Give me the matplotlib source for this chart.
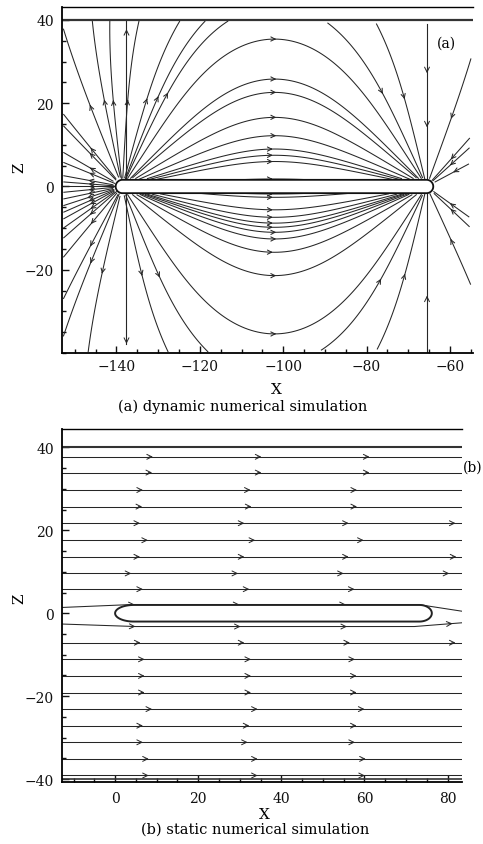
import inspect

import numpy as np
import matplotlib
matplotlib.use("Agg")
import matplotlib.pyplot as plt
from matplotlib import streamplot as sp_mod
from matplotlib.patches import Polygon
from matplotlib.ticker import MultipleLocator

plt.rcParams['font.family'] = ['DejaVu Serif']

# ---------------- panel (a): dynamic numerical simulation ----------------
a_xlim = (-153.0, -54.5)
a_ylim = (-40.0, 43.2)
a_field_z = (-40.0, 40.0)
a_xticks = [-140, -120, -100, -80, -60]
a_yticks = [-20, 0, 20, 40]
pole_src_x = -138.6          # field lines leave here
pole_snk_x = -65.6           # ... and end here
pole_falloff = 3.0           # field ~ 1/r**falloff around each pole
body_a_radius = 1.6
# height at which each closed arc crosses the mid-plane between the poles
a_arc_mid_z = [35.4, 25.8, 22.6, 16.6, 12.2, 9.0, 7.5, 6.0, 1.8,
               -1.8, -2.6, -5.6, -7.4, -8.8, -9.8, -11.0, -12.6, -15.8, -21.4, -35.4]
# where the open lines cross the frame
a_left_exit_z = [37.9, 17.4, 14.6, 8.2, 5.8, 2.6, 1.1, 0.0, -1.4, -3.0, -4.6,
                 -6.2, -7.8, -10.0, -12.4, -17.0, -27.0, -36.0]
a_top_exit_x = [-145.8, -141.6, -134.6, -124.8, -118.7, -113.2, -90.0, -78.0]
a_bottom_exit_x = [-146.8, -127.6, -118.0, -91.6, -77.8]
a_right_exit_z = [31.4, 12.2, 9.8, 5.8, 5.0, 0.6, -3.8, -4.6, -7.8, -10.2, -24.2]
# straight vertical lines through the poles
a_vertical_x = [-137.6, -65.5]
a_vertical_z = [(-37.8, 40.0), (-40.0, 39.0)]
a_vertical_arrow_z = [[37.0, -37.0], [28.0, 15.0, -27.0]]
a_vertical_outward = [True, False]

# ---------------- panel (b): static numerical simulation ----------------
b_xlim = (-12.7, 83.4)
b_ylim = (-40.6, 44.4)
b_xticks = [0, 20, 40, 60, 80]
b_yticks = [-40, -20, 0, 20, 40]
b_line_z = [37.7, 33.9, 29.7, 25.7, 21.7, 17.6, 13.6, 9.6, 5.8,
            -7.1, -11.1, -15.1, -19.1, -23.1, -27.1, -31.1, -35.1, -39.1]
b_arrow_x = [[8.8, 34.9, 60.9], [8.6, 34.9, 60.9], [6.4, 32.3, 57.9],
             [6.2, 32.5, 57.9], [5.7, 30.8, 55.9, 81.6], [7.6, 33.4, 59.5],
             [5.7, 30.8, 55.9, 81.8], [3.6, 29.3, 54.7, 80.1], [6.4, 32.0, 57.3],
             [5.8, 30.8, 56.2, 81.6], [6.8, 32.4, 57.4], [6.8, 32.4, 57.8],
             [6.8, 32.4, 57.8], [8.6, 34.0, 59.7], [6.4, 32.0, 57.8],
             [6.4, 31.6, 57.4], [7.8, 34.0, 60.0], [7.8, 34.0, 59.8]]
b_upper_wrap_x = [-12.7, 4.0, 73.0, 83.4]
b_upper_wrap_z = [1.4, 2.1, 2.1, 0.5]
b_upper_wrap_arrows = [4.4, 29.6, 55.2]
b_lower_wrap_x = [-12.7, 5.0, 72.0, 83.4]
b_lower_wrap_z = [-2.6, -3.2, -3.2, -2.3]
b_lower_wrap_arrows = [4.6, 29.9, 55.5, 80.9]
body_b_x = (0.0, 76.2)
body_b_half = 2.0
body_b_nose = (4.5, 3.0)      # length of the rounded ends (left, right)

LINE = '#262626'
HAS_NUM_ARROWS = 'num_arrows' in inspect.signature(sp_mod.streamplot).parameters


def arrow(ax, x, z, dx, dz):
    ax.annotate('', xy=(x + dx, z + dz), xytext=(x, z),
                arrowprops=dict(arrowstyle='->,head_length=0.45,head_width=0.22',
                                color=LINE, lw=0.7, mutation_scale=8,
                                shrinkA=0, shrinkB=0))


def style_axes(ax, xlim, ylim, xticks, yticks, xpad):
    ax.set_xlim(*xlim)
    ax.set_ylim(*ylim)
    ax.set_xticks(xticks)
    ax.set_yticks(yticks)
    ax.xaxis.set_minor_locator(MultipleLocator(5))
    ax.yaxis.set_minor_locator(MultipleLocator(5))
    ax.tick_params(which='both', direction='in', top=False, right=False, width=1.0,
                   colors='#111', labelsize=10)
    ax.tick_params(which='major', length=5)
    ax.tick_params(which='minor', length=3)
    ax.tick_params(axis='x', pad=xpad)
    ax.tick_params(axis='y', pad=6)
    ax.spines['right'].set_visible(False)
    for s in ('left', 'bottom'):
        ax.spines[s].set_linewidth(1.3)
    ax.spines['top'].set_linewidth(1.0)


def pole_field(X, Z):
    p = (pole_falloff + 1) / 2
    dxa, dxb = X - pole_src_x, X - pole_snk_x
    ra = (dxa ** 2 + Z ** 2) ** p
    rb = (dxb ** 2 + Z ** 2) ** p
    U = dxa / ra - dxb / rb
    V = Z / ra - Z / rb
    sp = np.hypot(U, V)
    U, V = U / sp, V / sp
    # inside the body: no field
    t = np.clip((X - pole_src_x) / (pole_snk_x - pole_src_x), 0, 1)
    dist = np.hypot(X - (pole_src_x + t * (pole_snk_x - pole_src_x)), Z)
    inside = dist < body_a_radius
    return np.ma.masked_where(inside, U), np.ma.masked_where(inside, V)


fig = plt.figure(figsize=(4.83, 8.45), dpi=100)
ax_a = fig.add_axes([0.129, 0.581, 0.850, 0.410])
ax_b = fig.add_axes([0.129, 0.0737, 0.827, 0.4174])

# ---- (a) ----
gx = np.linspace(a_xlim[0], a_xlim[1], 520)
gz = np.linspace(a_field_z[0], a_field_z[1], 420)
GX, GZ = np.meshgrid(gx, gz)
U, V = pole_field(GX, GZ)

mid_x = 0.5 * (pole_src_x + pole_snk_x)
eps = 0.25
arc_seeds = [(mid_x, z) for z in a_arc_mid_z]
# open lines are traced from the frame back to the pole they belong to
frame_seeds = ([(a_xlim[0] + eps, z) for z in a_left_exit_z]
               + [(x, a_field_z[1] - eps) for x in a_top_exit_x]
               + [(x, a_field_z[0] + eps) for x in a_bottom_exit_x]
               + [(a_xlim[1] - eps, z) for z in a_right_exit_z])
to_src = [s for s in frame_seeds if s[0] < mid_x]
to_snk = [s for s in frame_seeds if s[0] >= mid_x]

for seeds, direction, n_arr in ((arc_seeds, 'both', 4),
                                (to_src, 'backward', 2),
                                (to_snk, 'forward', 2)):
    kw = dict(start_points=np.array(seeds), broken_streamlines=False, density=4,
              color=LINE, linewidth=0.75, arrowsize=0.75, arrowstyle='->',
              integration_direction=direction, maxlength=8.0)
    if HAS_NUM_ARROWS:
        kw['num_arrows'] = n_arr
    ax_a.streamplot(gx, gz, U, V, **kw)

cap = []
for ang in np.linspace(np.pi / 2, 3 * np.pi / 2, 40):
    cap.append((pole_src_x + body_a_radius * np.cos(ang), body_a_radius * np.sin(ang)))
for ang in np.linspace(-np.pi / 2, np.pi / 2, 40):
    cap.append((pole_snk_x + body_a_radius * np.cos(ang), body_a_radius * np.sin(ang)))
ax_a.add_patch(Polygon(cap, closed=True, facecolor='white', edgecolor='#111',
                       lw=1.3, zorder=3))

for vx, (z0, z1), arr_z, outward in zip(a_vertical_x, a_vertical_z,
                                        a_vertical_arrow_z, a_vertical_outward):
    ax_a.plot([vx, vx], [z0, z1], color=LINE, lw=0.8)
    for z in arr_z:
        d = np.sign(z) if outward else -np.sign(z)
        arrow(ax_a, vx, z, 0, 0.8 * d)

ax_a.axhline(40, color='#333', lw=1.6)
style_axes(ax_a, a_xlim, a_ylim, a_xticks, a_yticks, xpad=4)
ax_a.set_xlabel('X', fontsize=11)
ax_a.xaxis.set_label_coords(0.522, -0.083)
ax_a.xaxis.label.set_va('top')
ax_a.set_ylabel('Z', fontsize=11)
ax_a.yaxis.set_label_coords(-0.088, 0.539)
ax_a.text(-60.8, 34.6, '(a)', fontsize=10, ha='center', va='center')

# ---- (b) ----
for z, xs in zip(b_line_z, b_arrow_x):
    ax_b.plot(b_xlim, [z, z], color=LINE, lw=0.75)
    for x in xs:
        arrow(ax_b, x - 0.6, z, 0.9, 0)

for wx, wz, wa in ((b_upper_wrap_x, b_upper_wrap_z, b_upper_wrap_arrows),
                   (b_lower_wrap_x, b_lower_wrap_z, b_lower_wrap_arrows)):
    ax_b.plot(wx, wz, color=LINE, lw=0.75)
    for x in wa:
        arrow(ax_b, x - 0.6, np.interp(x - 0.6, wx, wz), 0.9,
              np.interp(x + 0.3, wx, wz) - np.interp(x - 0.6, wx, wz))

x0, x1 = body_b_x
nl, nr = body_b_nose
outline = []
for ang in np.linspace(np.pi / 2, 3 * np.pi / 2, 40):
    outline.append((x0 + nl + nl * np.cos(ang), body_b_half * np.sin(ang)))
for ang in np.linspace(-np.pi / 2, np.pi / 2, 40):
    outline.append((x1 - nr + nr * np.cos(ang), body_b_half * np.sin(ang)))
ax_b.add_patch(Polygon(outline, closed=True, facecolor='white', edgecolor='#222',
                       lw=1.4, zorder=3))

ax_b.axhline(40, color='#333', lw=1.5)
ax_b.axhline(-40, color='#333', lw=1.2)
style_axes(ax_b, b_xlim, b_ylim, b_xticks, b_yticks, xpad=7)
ax_b.set_xlabel('X', fontsize=11)
ax_b.xaxis.set_label_coords(0.507, -0.072)
ax_b.xaxis.label.set_va('top')
ax_b.set_ylabel('Z', fontsize=11)
ax_b.yaxis.set_label_coords(-0.09, 0.521)
ax_b.text(86.0, 35.4, '(b)', fontsize=10, ha='center', va='center', clip_on=False)

fig.text(0.503, 1 - 407 / 845, '(a) dynamic numerical simulation', fontsize=10.5,
         ha='center', va='center')
fig.text(0.528, 1 - 830 / 845, '(b) static numerical simulation', fontsize=10.5,
         ha='center', va='center')

fig.savefig('out.png', dpi=100, facecolor='white')
